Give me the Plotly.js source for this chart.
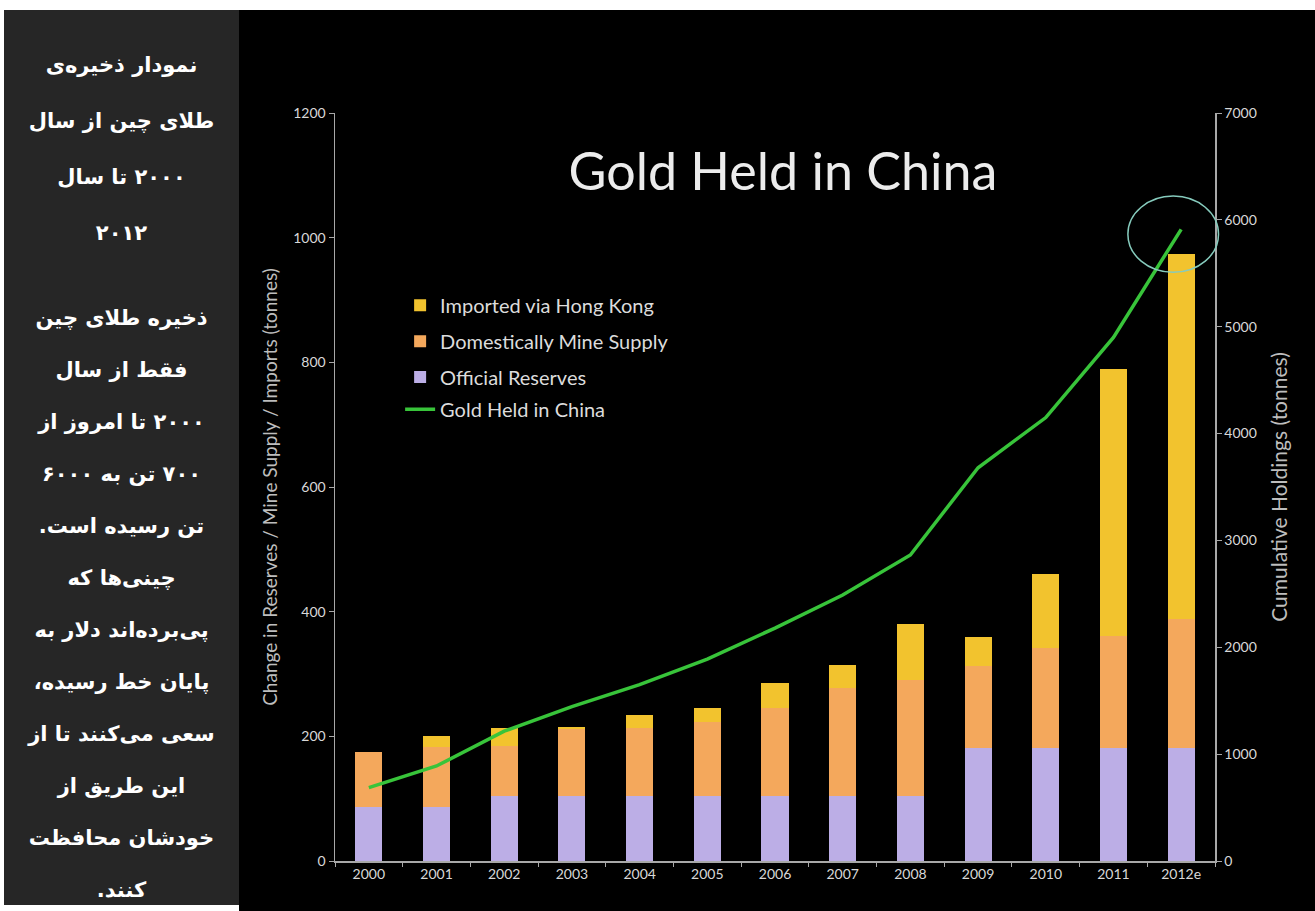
<!DOCTYPE html>
<html>
<head>
<meta charset="utf-8">
<script src="https://cdn.plot.ly/plotly-3.0.1.min.js"></script>
<style>
  html, body { margin: 0; padding: 0; background: #ffffff; width: 1315px; height: 911px; overflow: hidden; }
  #side {
    position: absolute; left: 4px; top: 10px; width: 235px; height: 895px;
    background: #262626; color: #ffffff; direction: rtl; text-align: center;
    font-family: "DejaVu Sans", "Noto Sans", sans-serif; font-weight: bold;
    font-size: 21px; box-sizing: border-box; padding-top: 27px;
  }
  #side p { margin: 0; line-height: 52px; height: 52px; white-space: nowrap; }
  #side p.h { line-height: 56px; height: 56px; }
  #side p.gap { height: 31px; }
  #chart { position: absolute; left: 239px; top: 10px; width: 1076px; height: 901px; background: #000; }
</style>
</head>
<body>
<div id="side">
  <p class="h">نمودار ذخیره‌ی</p>
  <p class="h">طلای چین از سال</p>
  <p class="h">۲۰۰۰ تا سال</p>
  <p class="h">۲۰۱۲</p>
  <p class="gap"></p>
  <p>ذخیره طلای چین</p>
  <p>فقط از سال</p>
  <p>۲۰۰۰ تا امروز از</p>
  <p>۷۰۰ تن به ۶۰۰۰</p>
  <p>تن رسیده است.</p>
  <p>چینی‌ها که</p>
  <p>پی‌برده‌اند دلار به</p>
  <p>پایان خط رسیده،</p>
  <p>سعی می‌کنند تا از</p>
  <p>این طریق از</p>
  <p>خودشان محافظت</p>
  <p>کنند.</p>
</div>
<div id="chart"></div>
<script>
const years = ['2000','2001','2002','2003','2004','2005','2006','2007','2008','2009','2010','2011','2012e'];
const officialReserves = [87, 87, 104, 104, 104, 104, 104, 104, 104, 182, 182, 182, 182];
const domesticMine = [88, 96, 80, 107, 109, 119, 141, 173, 186, 131, 159, 179, 207];
const importedHK = [0, 17, 30, 4, 21, 22, 40, 38, 90, 46, 119, 428, 585];
const goldHeld = [686, 889, 1215, 1444, 1650, 1890, 2180, 2489, 2864, 3680, 4150, 4900, 5911];

const FONT = 'Lato, "Open Sans", sans-serif';
const txt = '#d8d8d8';
const axisCol = '#a8a8a8';

const traces = [
  { type: 'bar', name: 'Official Reserves', x: years, y: officialReserves,
    marker: { color: '#bcaee6', line: { width: 0 } }, width: 0.4, legend: 'legend3' },
  { type: 'bar', name: 'Domestically Mine Supply', x: years, y: domesticMine,
    marker: { color: '#f4a85c', line: { width: 0 } }, width: 0.4, legend: 'legend2' },
  { type: 'bar', name: 'Imported via Hong Kong', x: years, y: importedHK,
    marker: { color: '#f2c32e', line: { width: 0 } }, width: 0.4, legend: 'legend' },
  { type: 'scatter', mode: 'lines', name: 'Gold Held in China', x: years, y: goldHeld,
    yaxis: 'y2', line: { color: '#38c43a', width: 3.5 }, legend: 'legend4' }
];

function leg(y) {
  return { x: 0.074, y: y, xanchor: 'left', yanchor: 'middle',
           bgcolor: 'rgba(0,0,0,0)', font: { family: FONT, size: 20, color: '#dcdcdc' },
           itemwidth: 30 };
}

const layout = {
  width: 1076, height: 901,
  paper_bgcolor: '#000000', plot_bgcolor: '#000000',
  margin: { l: 96, r: 100, t: 103, b: 50 },
  barmode: 'stack',
  showlegend: true,
  font: { family: FONT, color: txt, size: 14 },
  title: { text: 'Gold Held in China', font: { family: FONT, size: 52, color: '#ececec' },
           x: 0.509, xref: 'paper', y: 0.82, yref: 'container', xanchor: 'center', yanchor: 'middle' },
  xaxis: {
    type: 'category', range: [-0.5, 12.5], showgrid: false, zeroline: false,
    showline: true, linecolor: axisCol, linewidth: 1.5,
    ticks: 'outside', tickson: 'boundaries', ticklen: 4, tickcolor: axisCol,
    tickfont: { family: FONT, size: 14, color: txt }, fixedrange: true
  },
  yaxis: {
    range: [0, 1200], tickvals: [0, 200, 400, 600, 800, 1000, 1200],
    showgrid: false, zeroline: false, showline: true, linecolor: axisCol, linewidth: 1.5,
    ticks: 'outside', ticklen: 5, tickcolor: axisCol,
    tickfont: { family: FONT, size: 14, color: txt },
    title: { text: 'Change in Reserves / Mine Supply / Imports (tonnes)', standoff: 10,
             font: { family: FONT, size: 19, color: '#bdbdbd' } }
  },
  yaxis2: {
    overlaying: 'y', side: 'right', range: [0, 7000],
    tickvals: [0, 1000, 2000, 3000, 4000, 5000, 6000, 7000],
    showgrid: false, zeroline: false, showline: true, linecolor: axisCol, linewidth: 1.5,
    ticks: 'outside', ticklen: 5, tickcolor: axisCol,
    tickfont: { family: FONT, size: 14, color: txt },
    title: { text: 'Cumulative Holdings (tonnes)', standoff: 16,
             font: { family: FONT, size: 21, color: '#bdbdbd' } }
  },
  legend: leg(0.743),
  legend2: leg(0.695),
  legend3: leg(0.647),
  legend4: leg(0.604),
  shapes: [
    { type: 'circle', xref: 'paper', yref: 'paper', x0: 0.901, x1: 1.004, y0: 0.787, y1: 0.889,
      line: { color: '#86cbbd', width: 1.5 }, fillcolor: 'rgba(0,0,0,0)' }
  ],
  bargap: 0.6
};

Plotly.newPlot('chart', traces, layout, { displayModeBar: false, staticPlot: true });
</script>
</body>
</html>
